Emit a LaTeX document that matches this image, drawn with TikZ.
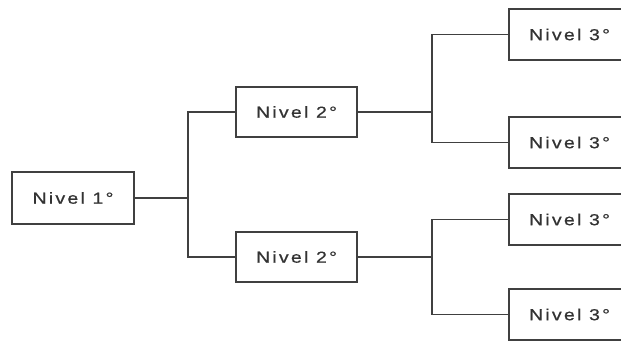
\documentclass[tikz,border=0pt]{standalone}
\usepackage{fontspec}
\setmainfont{Liberation Sans}[FakeStretch=1.22,LetterSpace=14,FakeBold=0.6]
\usepackage{tikz}

\begin{document}
\begin{tikzpicture}[x=1pt,y=-1pt,
    nivelbox/.style={draw=black!75, line width=1.3pt, fill=white,
      minimum width=121pt, minimum height=51pt, inner sep=0pt,
      text=black!80, font=\fontsize{16}{19}\selectfont},
    branch/.style={draw=black!75, line width=1.2pt}]

      \useasboundingbox (0,0) rectangle (621,341);
      \clip (0,0) rectangle (621,341);

      %Level 1
      \node [nivelbox, minimum width=122pt, minimum height=52pt] (n1) at (73,198) {Nivel 1°};

      %Level 2
      \node [nivelbox, minimum height=50pt] (n2a) at (296.5,112) {Nivel 2°};
      \node [nivelbox, minimum height=50pt] (n2b) at (296.5,257) {Nivel 2°};

      %Level 3
      \node [nivelbox] (n3a) at (569.5,34.5)  {Nivel 3°};
      \node [nivelbox] (n3b) at (569.5,142.5) {Nivel 3°};
      \node [nivelbox] (n3c) at (569.5,219.5) {Nivel 3°};
      \node [nivelbox] (n3d) at (569.5,314.5) {Nivel 3°};

      %junctions
      \coordinate (j1)  at (188,198);
      \coordinate (j2a) at (432,112);
      \coordinate (j2b) at (432,257);

      %connectors
      \draw [branch] (n1.east) -- (j1);
      \draw [branch] (n2a.west) -| (j1) |- (n2b.west);
      \draw [branch] (n2a.east) -- (j2a);
      \draw [branch] (n3a.west) -| (j2a) |- (n3b.west);
      \draw [branch] (n2b.east) -- (j2b);
      \draw [branch] (n3c.west) -| (j2b) |- (n3d.west);
    \end{tikzpicture}
\end{document}
